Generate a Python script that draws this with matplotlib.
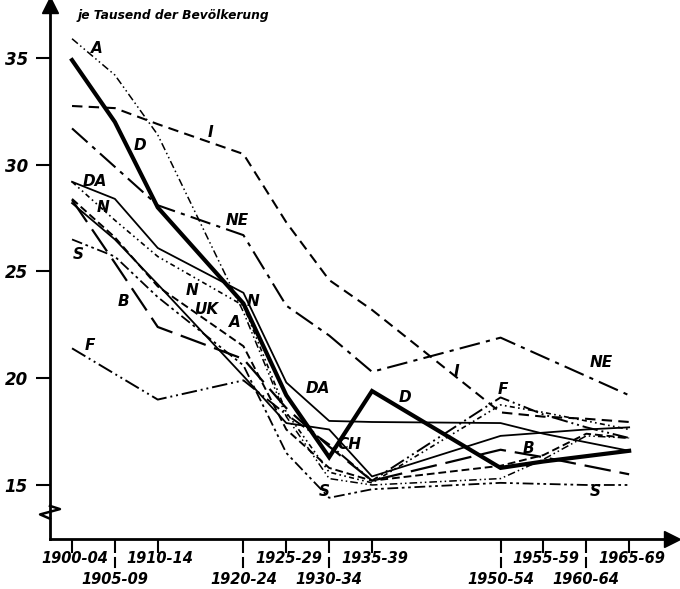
# Birth rates in European countries, 1900-1969 (per 1000 population)
import matplotlib.pyplot as plt

years = [1900, 1905, 1910, 1920, 1925, 1930, 1935, 1950, 1955, 1960, 1965]
period_labels = ['1900-04', '1905-09', '1910-14', '1920-24', '1925-29', '1930-34',
                 '1935-39', '1950-54', '1955-59', '1960-64', '1965-69']
lower_row = [1905, 1920, 1930, 1950, 1960]

A = [35.9, 34.2, 31.4, 23.1, 18.2, 15.3, 15.0, 15.3, 16.2, 17.3, 17.2]
D = [34.9, 32.0, 28.0, 23.5, 19.2, 16.3, 19.4, 15.8, 16.1, 16.35, 16.6]
I = [32.75, 32.65, 31.9, 30.5, 27.3, 24.6, 23.2, 18.4, 18.2, 18.1, 17.95]
NE = [31.7, 29.9, 28.1, 26.7, 23.4, 22.0, 20.3, 21.9, 21.0, 20.1, 19.2]
DA = [29.2, 28.4, 26.1, 24.0, 19.8, 18.0, 17.95, 17.9, 17.4, 17.0, 16.6]
N = [29.2, 27.4, 25.7, 23.4, 18.4, 15.6, 15.1, 18.75, 18.4, 18.0, 17.6]
CH = [28.2, 26.5, 24.4, 20.1, 17.9, 17.6, 15.4, 17.3, 17.45, 17.6, 17.7]
UK = [28.4, 26.6, 24.3, 21.5, 17.6, 15.8, 15.2, 15.9, 16.4, 17.4, 17.2]
B = [28.35, 25.4, 22.4, 20.9, 18.6, 16.8, 15.2, 16.65, 16.3, 15.9, 15.5]
S = [26.5, 25.7, 23.8, 20.6, 16.5, 14.4, 14.8, 15.1, 15.05, 15.0, 15.0]
F = [21.4, 20.2, 19.0, 19.9, 18.3, 16.9, 15.2, 19.1, 18.3, 17.7, 17.2]

# curve labels as drawn on the chart (x in years, y in per mille)
label_text = ['A', 'D', 'I', 'DA', 'N', 'NE', 'S', 'B', 'N', 'UK', 'A', 'N', 'F',
              'DA', 'D', 'I', 'NE', 'F', 'CH', 'B', 'S', 'S']
label_x = [1902.9, 1907.9, 1916.1, 1902.7, 1903.6, 1919.3, 1900.7, 1906.0, 1914.0,
           1915.8, 1919.0, 1921.1, 1902.1, 1928.7, 1938.9, 1944.8, 1961.8, 1950.3,
           1932.4, 1953.2, 1929.4, 1961.0]
label_y = [35.45, 30.9, 31.5, 29.2, 28.0, 27.4, 25.8, 23.6, 24.1, 23.2, 22.6, 23.6,
           21.55, 19.5, 19.1, 20.3, 20.75, 19.45, 16.9, 16.7, 14.7, 14.7]

plt.rcParams['font.family'] = 'DejaVu Sans'
fig = plt.figure(figsize=(6.8, 5.89), dpi=100)
ax = fig.add_axes([50 / 680, 50 / 589, 622 / 680, 534 / 589])
ax.set_xlim(1897.43, 1970.0)
ax.set_ylim(12.47, 37.48)

k = 'black'
ax.plot(years, A, color=k, lw=1.1, dashes=(5, 2, 1, 2, 1, 2))
ax.plot(years, D, color=k, lw=3.0, solid_joinstyle='miter')
ax.plot(years, I, color=k, lw=1.5, dashes=(5, 3))
ax.plot(years, NE, color=k, lw=1.5, dashes=(10, 3, 2, 3))
ax.plot(years, DA, color=k, lw=1.3)
ax.plot(years, N, color=k, lw=1.2, dashes=(3, 2, 1, 2, 1, 2))
ax.plot(years, CH, color=k, lw=1.3)
ax.plot(years, UK, color=k, lw=1.4, dashes=(4, 2))
ax.plot(years, B, color=k, lw=1.6, dashes=(12, 4))
ax.plot(years, S, color=k, lw=1.3, dashes=(6, 2, 1.5, 2, 1.5, 2))
ax.plot(years, F, color=k, lw=1.4, dashes=(8, 2, 1, 2, 1, 2))

for t, x, y in zip(label_text, label_x, label_y):
    ax.text(x, y, t, fontsize=11, fontweight='bold', fontstyle='italic',
            ha='center', va='center')

# axes with arrows
for s in ['top', 'right']:
    ax.spines[s].set_visible(False)
ax.spines['left'].set_linewidth(2)
ax.spines['bottom'].set_linewidth(2)
ax.plot(1, 0, '>', color=k, ms=11, transform=ax.transAxes, clip_on=False)
ax.plot(0, 1, '^', color=k, ms=11, transform=ax.transAxes, clip_on=False)

# axis break on the y axis
ax.plot([0, 0], [0.035, 0.065], color='white', lw=4, transform=ax.transAxes,
        clip_on=False)
ax.plot([0, 0.016, -0.016, 0], [0.062, 0.056, 0.046, 0.038], color=k, lw=1.8,
        transform=ax.transAxes, clip_on=False)

ax.set_yticks([15, 20, 25, 30, 35])
ax.set_yticklabels(['15', '20', '25', '30', '35'], fontsize=12,
                   fontweight='bold', fontstyle='italic')
ax.tick_params(axis='y', length=10, width=1.5, pad=6)

ax.set_xticks(years)
ax.set_xticklabels([])
ax.tick_params(axis='x', length=10, width=1.5)
xt = ax.get_xaxis_transform()
for yr, lab in zip(years, period_labels):
    if yr in lower_row:
        ax.plot([yr, yr], [-0.035, -0.053], color=k, lw=1.5, transform=xt,
                clip_on=False)
        ax.text(yr, -0.075, lab, transform=xt, ha='center', va='center',
                fontsize=10.5, fontweight='bold', fontstyle='italic')
    else:
        ax.text(yr + 0.3, -0.036, lab, transform=xt, ha='center', va='center',
                fontsize=10.5, fontweight='bold', fontstyle='italic')

ax.text(1900.7, 37.0, 'je Tausend der Bevölkerung', fontsize=8.8,
        fontweight='bold', fontstyle='italic', ha='left', va='center')

fig.savefig('out.png', dpi=100)
